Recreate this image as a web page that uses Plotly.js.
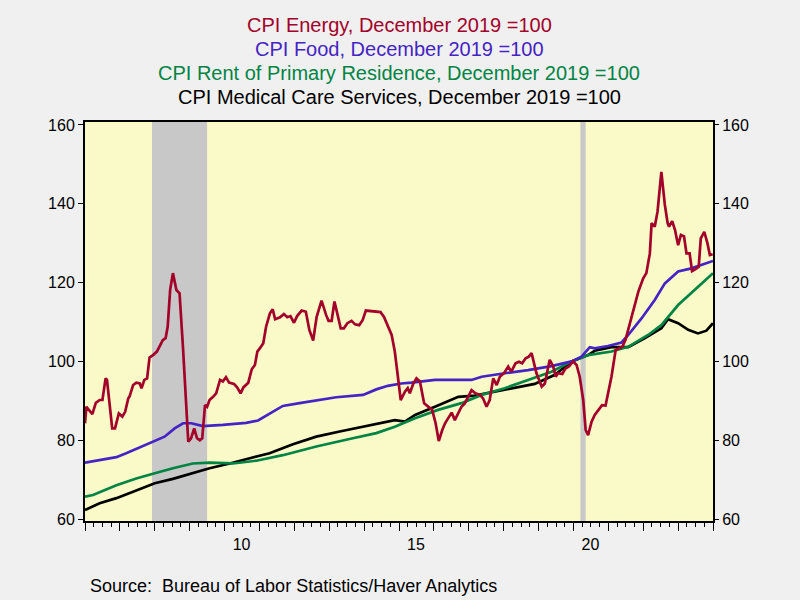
<!DOCTYPE html>
<html><head><meta charset="utf-8">
<script src="https://cdn.plot.ly/plotly-3.0.1.min.js"></script>
<style>html,body{margin:0;padding:0;background:#f0f0f0}</style>
</head><body><div id="chart" style="width:800px;height:600px"></div>
<script>
// Energy (decimal year, index Dec 2019 = 100)
const energyX = [2006.00,2006.04,2006.21,2006.31,2006.42,2006.50,2006.59,2006.63,2006.78,2006.86,2006.97,2007.07,2007.15,2007.24,2007.28,2007.38,2007.47,2007.57,2007.62,2007.70,2007.78,2007.85,2007.95,2008.06,2008.16,2008.23,2008.31,2008.37,2008.44,2008.52,2008.62,2008.71,2008.81,2008.88,2008.96,2009.04,2009.13,2009.21,2009.29,2009.36,2009.44,2009.50,2009.57,2009.67,2009.76,2009.87,2009.95,2010.04,2010.13,2010.27,2010.36,2010.46,2010.54,2010.68,2010.78,2010.87,2010.94,2011.01,2011.11,2011.19,2011.30,2011.38,2011.45,2011.59,2011.70,2011.80,2011.89,2011.99,2012.08,2012.21,2012.33,2012.43,2012.54,2012.64,2012.78,2012.91,2012.98,2013.07,2013.15,2013.23,2013.33,2013.42,2013.52,2013.64,2013.74,2013.86,2013.96,2014.05,2014.17,2014.31,2014.47,2014.57,2014.69,2014.79,2014.88,2014.98,2015.05,2015.17,2015.25,2015.31,2015.41,2015.50,2015.60,2015.72,2015.84,2015.95,2016.05,2016.14,2016.24,2016.32,2016.41,2016.51,2016.60,2016.70,2016.79,2016.89,2016.98,2017.08,2017.19,2017.32,2017.41,2017.51,2017.60,2017.70,2017.80,2017.89,2018.01,2018.13,2018.22,2018.34,2018.44,2018.53,2018.63,2018.72,2018.80,2018.94,2019.09,2019.18,2019.32,2019.42,2019.49,2019.56,2019.68,2019.77,2019.87,2019.99,2020.09,2020.18,2020.28,2020.35,2020.42,2020.52,2020.61,2020.73,2020.82,2020.92,2020.99,2021.09,2021.21,2021.30,2021.40,2021.49,2021.62,2021.71,2021.86,2022.00,2022.09,2022.19,2022.24,2022.33,2022.41,2022.52,2022.62,2022.70,2022.74,2022.83,2022.91,2023.00,2023.08,2023.17,2023.24,2023.33,2023.40,2023.50,2023.59,2023.65,2023.75,2023.84,2023.91,2023.99];
const energyY = [84.3,88.5,86.6,89.5,90.2,90.2,95.7,95.3,83.0,83.0,86.8,86.0,87.2,90.6,91.2,94.0,94.6,94.4,93.2,95.3,95.7,101.0,101.6,102.5,104.2,105.4,105.9,108.8,118.1,122.4,118.1,117.3,103.3,91.9,79.6,80.5,83.0,80.5,80.0,80.5,88.9,88.5,90.2,91.0,91.9,95.3,94.9,96.0,94.6,94.3,93.4,91.9,93.4,94.6,98.0,99.1,102.5,103.3,104.6,108.8,112.2,113.2,110.7,111.2,112.0,111.2,111.5,109.8,111.5,112.9,112.6,108.0,105.3,111.3,115.4,111.8,110.3,110.3,115.2,112.2,108.4,108.4,109.7,110.3,109.4,109.2,110.5,112.9,112.8,112.6,112.5,111.3,108.8,106.7,102.5,95.3,90.2,92.3,93.2,91.9,94.4,95.7,94.9,89.4,88.5,87.7,84.3,79.8,82.6,84.3,85.6,87.0,85.1,86.8,88.5,89.4,91.0,92.7,91.9,91.5,90.6,88.5,90.2,95.7,94.0,96.1,97.0,98.7,97.4,99.5,99.9,99.5,100.8,101.2,102.1,97.0,93.6,94.4,100.4,98.7,96.1,97.0,96.8,98.2,98.7,100.0,99.1,96.1,90.2,82.6,81.3,84.7,86.4,87.7,88.9,88.8,91.9,96.1,102.9,103.3,103.7,105.4,109.7,112.2,117.7,121.1,122.4,127.4,135.1,134.2,138.0,148.1,139.7,135.1,134.2,135.6,133.4,129.5,132.1,131.7,127.4,127.4,122.9,123.4,124.0,131.2,132.9,130.0,127.0,127.2];

// Food
const foodX = [2006.00,2006.52,2006.90,2007.18,2007.57,2008.00,2008.28,2008.57,2008.81,2009.05,2009.38,2009.95,2010.62,2010.96,2011.29,2011.67,2012.15,2012.63,2013.20,2013.97,2014.35,2014.68,2015.06,2015.36,2016.03,2017.08,2017.37,2018.03,2018.70,2019.37,2019.95,2020.23,2020.47,2020.61,2020.99,2021.38,2021.57,2021.95,2022.33,2022.62,2023.00,2023.38,2023.67,2024.00];
const foodY = [74.3,75.0,75.7,76.7,78.2,79.8,80.9,83.0,84.3,84.3,83.6,83.9,84.4,85.0,86.8,88.7,89.4,90.0,90.9,91.5,92.9,93.8,94.4,94.6,95.3,95.3,96.1,97.0,97.8,98.8,100.0,101.2,103.6,103.3,103.9,104.8,106.7,110.9,115.6,119.8,122.8,123.6,124.5,125.5];

// Rent of primary residence
const rentX = [2006.00,2006.23,2006.90,2007.47,2008.00,2008.52,2009.09,2009.57,2010.24,2010.91,2011.67,2012.63,2013.58,2014.35,2014.88,2015.46,2016.12,2016.79,2017.37,2018.03,2018.70,2019.37,2019.95,2020.42,2021.09,2021.57,2022.14,2022.52,2023.00,2023.48,2024.00];
const rentY = [65.7,66.1,68.6,70.3,71.6,72.9,74.1,74.3,74.1,74.8,76.2,78.4,80.3,81.8,83.4,85.6,87.7,89.4,91.5,93.2,95.3,97.4,100.0,101.6,102.5,103.7,106.7,109.2,114.3,118.1,122.4];

// Medical care services
const medX = [2006.00,2006.42,2006.90,2007.47,2008.00,2008.52,2009.09,2009.57,2010.15,2010.72,2011.29,2011.96,2012.63,2013.30,2014.06,2014.54,2014.88,2015.17,2015.46,2016.03,2016.70,2017.17,2017.75,2018.32,2018.89,2019.47,2019.95,2020.42,2020.61,2021.09,2021.57,2022.05,2022.52,2022.71,2023.00,2023.29,2023.57,2023.81,2024.00];
const medY = [62.3,64.0,65.3,67.2,69.1,70.2,71.6,72.9,74.1,75.4,76.7,79.0,80.9,82.2,83.6,84.4,85.1,84.7,86.4,88.5,91.0,91.3,92.3,93.4,94.3,96.6,100.0,101.6,102.7,103.6,103.6,105.9,108.4,110.7,109.7,108.0,107.1,107.8,109.7];

// Recessions
const recStart = [2007.92, 2020.20];
const recEnd = [2009.50, 2020.35];

const titleLines = ['CPI Energy, December 2019 =100','CPI Food, December 2019 =100','CPI Rent of Primary Residence, December 2019 =100','CPI Medical Care Services, December 2019 =100'];
const seriesColors = ['#a3002a','#4424c4','#008444','#000000'];
const yTicks = [60,80,100,120,140,160];
const yearTicks = [2006,2007,2008,2009,2010,2011,2012,2013,2014,2015,2016,2017,2018,2019,2020,2021,2022,2023,2024];
const yearLabels = ['','','','','10','','','','','15','','','','','20','','','',''];
const sourceText = 'Source:  Bureau of Labor Statistics/Haver Analytics';

const FONT = 'Liberation Sans, Arial, sans-serif';
const traces = [
  {x: medX, y: medY, mode:'lines', line:{color:seriesColors[3], width:2.7}, hoverinfo:'skip'},
  {x: rentX, y: rentY, mode:'lines', line:{color:seriesColors[2], width:2.7}, hoverinfo:'skip'},
  {x: foodX, y: foodY, mode:'lines', line:{color:seriesColors[1], width:2.7}, hoverinfo:'skip'},
  {x: energyX, y: energyY, mode:'lines', yaxis:'y2', line:{color:seriesColors[0], width:2.7}, hoverinfo:'skip'}
];

const shapes = recStart.map((s,i)=>({type:'rect', xref:'x', yref:'paper', x0:s, x1:recEnd[i], y0:0, y1:1, fillcolor:'#c8c8c8', line:{width:0}, layer:'below'}));

const titleY = [1.243, 1.183, 1.123, 1.063];
const annotations = titleLines.map((t,i)=>({text:t, xref:'paper', yref:'paper', x:0.5, y:titleY[i], xanchor:'center', yanchor:'middle', showarrow:false, font:{family:FONT, size:20, color:seriesColors[i]}}));
annotations.push({text:sourceText, xref:'paper', yref:'paper', x:0.004, y:-0.163, xanchor:'left', yanchor:'middle', showarrow:false, font:{family:FONT, size:18, color:'#000'}});

const yRange = [59.5, 160.75];
const layout = {
  width:800, height:600,
  paper_bgcolor:'#f0f0f0', plot_bgcolor:'#fafac8',
  margin:{l:85, r:87, t:122, b:79},
  showlegend:false,
  font:{family:FONT, size:15, color:'#000'},
  xaxis:{range:[2006,2024], tickmode:'array', tickvals:yearTicks, ticktext:yearLabels, ticklabelshift:17,
         ticks:'outside', ticklen:8, tickwidth:1, tickcolor:'#000',
         minor:{dtick:0.25, tick0:2006, ticks:'outside', ticklen:4, tickwidth:1, tickcolor:'#000'},
         showline:true, linewidth:2, linecolor:'#000', mirror:true, showgrid:false, zeroline:false,
         tickfont:{family:FONT, size:16}},
  yaxis:{range:yRange, tickmode:'array', tickvals:yTicks, ticks:'outside', ticklen:5, tickcolor:'#000',
         showline:true, linewidth:2, linecolor:'#000', mirror:true, showgrid:false, zeroline:false,
         tickfont:{family:FONT, size:16}},
  yaxis2:{range:yRange, overlaying:'y', side:'right', tickmode:'array', tickvals:yTicks, ticks:'outside', ticklen:5, tickcolor:'#000',
         showline:false, showgrid:false, zeroline:false, tickfont:{family:FONT, size:16}},
  shapes: shapes,
  annotations: annotations
};
Plotly.newPlot('chart', traces, layout, {displayModeBar:false, staticPlot:true});
</script></body></html>
